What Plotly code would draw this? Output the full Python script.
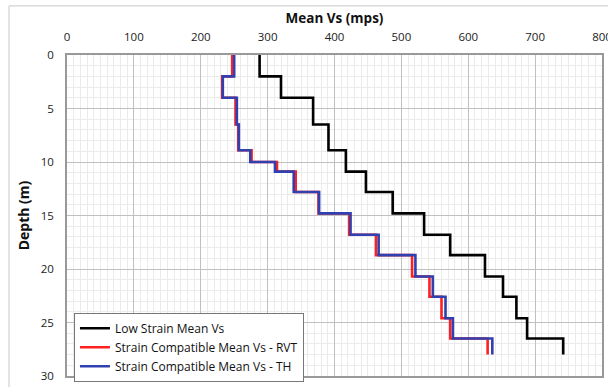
import plotly.graph_objects as go

# Layer boundaries (depth, m)
depth_bounds = [0, 2, 4, 6.5, 8.9, 10, 10.9, 12.8, 14.8, 16.8, 18.7, 20.7, 22.6, 24.6, 26.5, 28]
# Mean Vs per layer (mps)
low_strain = [288, 320, 368, 391, 417, 417, 447, 487, 534, 573, 625, 652, 672, 688, 742]
rvt = [247, 232, 252, 256, 276, 314, 342, 376, 422, 462, 516, 542, 560, 573, 629]
th = [250, 233, 254, 257, 274, 311, 339, 377, 424, 466, 521, 547, 566, 577, 636]

series_names = ["Low Strain Mean Vs", "Strain Compatible Mean Vs - RVT", "Strain Compatible Mean Vs - TH"]
series_colors = ["#000000", "#ff2020", "#3040b0"]
x_ticks = [0, 100, 200, 300, 400, 500, 600, 700, 800]
y_ticks = [0, 5, 10, 15, 20, 25, 30]

FONT = "Open Sans"

fig = go.Figure()
for name, vals, col in zip(series_names, [low_strain, rvt, th], series_colors):
    xs = list(vals) + [vals[-1]]
    ys = list(depth_bounds)
    fig.add_trace(go.Scatter(
        x=xs, y=ys, mode="lines", name=name,
        line=dict(color=col, width=2.6, shape="vh"),
    ))

fig.update_layout(
    width=608, height=387,
    margin=dict(l=67, r=6, t=55, b=5),
    paper_bgcolor="white", plot_bgcolor="white",
    font=dict(family=FONT, size=11, color="#222"),
    showlegend=True,
    legend=dict(
        x=0.013, y=0.197, xanchor="left", yanchor="top",
        bgcolor="white", bordercolor="#777", borderwidth=1,
        font=dict(family=FONT, size=12, color="#111"),
        itemwidth=30, tracegroupgap=0,
    ),
    xaxis=dict(
        side="top", range=[0, 800.001], tickvals=x_ticks,
        ticktext=[str(v) for v in x_ticks],
        ticklabeloverflow="allow", automargin=False,
        showgrid=True, gridcolor="#c0c0c0", gridwidth=1,
        minor=dict(dtick=10, showgrid=True, gridcolor="#ebebeb", gridwidth=1),
        showline=True, linecolor="#999", linewidth=1.5, mirror=True,
        ticks="", zeroline=False, ticklabelstandoff=8,
        title=dict(text="<b>Mean Vs (mps)</b>", font=dict(family=FONT, size=13.5, color="#111"), standoff=2),
        tickfont=dict(family=FONT, size=11.5, color="#222"),
    ),
    yaxis=dict(
        range=[30, 0], tickvals=y_ticks, automargin=False,
        showgrid=True, gridcolor="#c0c0c0", gridwidth=1,
        minor=dict(dtick=1, showgrid=True, gridcolor="#ebebeb", gridwidth=1),
        showline=True, linecolor="#999", linewidth=1.5, mirror=True,
        ticks="", zeroline=False, ticklabelstandoff=9,
        title=dict(text="<b>Depth (m)</b>", font=dict(family=FONT, size=14, color="#111"), standoff=8),
        tickfont=dict(family=FONT, size=11.5, color="#222"),
    ),
)

# outer chart border (light gray frame)
fig.add_shape(type="rect", xref="paper", yref="paper",
              x0=(9 - 67) / 535, x1=(625 - 67) / 535,
              y0=(382 - 400) / 327, y1=(382 - 5) / 327,
              line=dict(color="#c8c8c8", width=1), fillcolor="rgba(0,0,0,0)", layer="below")

fig.write_html("out.html")
